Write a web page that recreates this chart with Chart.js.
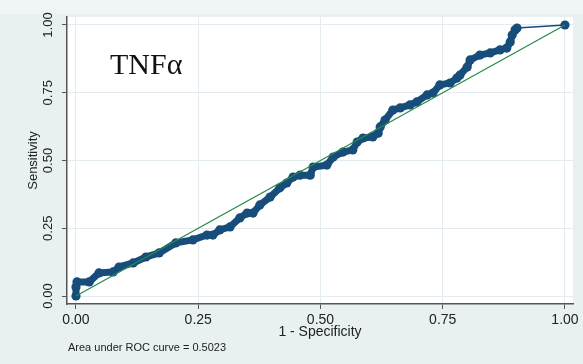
<!DOCTYPE html>
<html><head><meta charset="utf-8">
<script src="https://cdn.jsdelivr.net/npm/chart.js@4"></script>
<style>html,body{margin:0;padding:0;background:#e8f0f2;}canvas{display:block}</style>
</head><body>
<canvas id="c" width="583" height="364"></canvas>
<script>
// ROC curve
const fpr = [0, 0, 0.002, 0.027, 0.047, 0.076, 0.088, 0.117, 0.143, 0.170, 0.204, 0.239, 0.268, 0.280, 0.294, 0.315, 0.335, 0.350, 0.362, 0.376, 0.397, 0.417, 0.431, 0.444, 0.458, 0.479, 0.485, 0.513, 0.526, 0.546, 0.566, 0.575, 0.587, 0.607, 0.618, 0.622, 0.632, 0.648, 0.663, 0.683, 0.697, 0.718, 0.730, 0.744, 0.765, 0.779, 0.785, 0.800, 0.806, 0.826, 0.847, 0.867, 0.881, 0.888, 0.892, 0.898, 0.902, 1];
const tpr = [0, 0.033, 0.052, 0.052, 0.085, 0.089, 0.107, 0.122, 0.144, 0.159, 0.196, 0.207, 0.225, 0.225, 0.244, 0.255, 0.288, 0.306, 0.306, 0.336, 0.365, 0.399, 0.417, 0.439, 0.446, 0.446, 0.476, 0.483, 0.513, 0.531, 0.539, 0.568, 0.583, 0.587, 0.601, 0.624, 0.649, 0.686, 0.694, 0.705, 0.716, 0.742, 0.749, 0.779, 0.786, 0.804, 0.815, 0.845, 0.871, 0.889, 0.897, 0.908, 0.915, 0.937, 0.963, 0.982, 0.989, 1];
const refX = [0, 1];
const refY = [0, 1];
const tickValues = [0, 0.25, 0.5, 0.75, 1];
const tickLabels = ['0.00', '0.25', '0.50', '0.75', '1.00'];
const xTitle = '1 - Specificity';
const yTitle = 'Sensitivity';
const panelLabel = 'TNF\u03b1';
const aucNote = 'Area under ROC curve = 0.5023';

const rocData = fpr.map((x, i) => ({x: x, y: tpr[i]}));
const refData = refX.map((x, i) => ({x: x, y: refY[i]}));

const bgPlugin = {
  id: 'bg',
  beforeDraw(chart) {
    const {ctx, chartArea: a} = chart;
    ctx.save();
    ctx.fillStyle = '#e8f0f2';
    ctx.fillRect(0, 0, chart.width, chart.height);
    ctx.fillStyle = '#eff5f6';
    ctx.fillRect(0, 0, chart.width, 14);
    ctx.fillStyle = '#ffffff';
    ctx.fillRect(a.left, a.top, a.right - a.left, a.bottom - a.top);
    ctx.restore();
  },
  afterDraw(chart) {
    const ctx = chart.ctx;
    ctx.save();
    ctx.fillStyle = '#111';
    ctx.textBaseline = 'alphabetic';
    ctx.font = '30px "Liberation Serif"';
    ctx.fillText(panelLabel, 110, 74);
    ctx.font = '11px "Liberation Sans"';
    ctx.fillStyle = '#222';
    ctx.fillText(aucNote, 68, 351);
    ctx.restore();
  }
};

const setTicks = s => { s.ticks = tickValues.map(v => ({value: v})); };

new Chart(document.getElementById('c'), {
  type: 'scatter',
  data: {
    datasets: [
      {
        data: refData, showLine: true, borderColor: '#2a8a4c', borderWidth: 1.3,
        pointRadius: 0, order: 0
      },
      {
        data: rocData, showLine: true, borderColor: '#174d7a', backgroundColor: '#174d7a',
        borderWidth: 7, pointRadius: 4.6, pointBorderWidth: 0, pointBackgroundColor: '#174d7a',
        order: 1,
        segment: { borderWidth: ctx => (ctx.p0.parsed.x >= 0.9 ? 1.5 : 7) }
      }
    ]
  },
  options: {
    responsive: false,
    animation: false,
    devicePixelRatio: 1,
    layout: { padding: { left: 0, right: 10, top: 17, bottom: 23 } },
    plugins: { legend: { display: false }, tooltip: { enabled: false } },
    scales: {
      x: {
        type: 'linear', min: -0.0184, max: 1.0164,
        afterBuildTicks: setTicks,
        afterFit: s => { s.height = 37; },
        ticks: { callback: (v, i) => tickLabels[i], font: { family: 'Liberation Sans', size: 14 }, color: '#222', padding: 3, maxRotation: 0 },
        grid: { color: '#e3edf1', tickColor: '#555', tickLength: 5, lineWidth: 1 },
        border: { color: '#555', width: 1.5 },
        title: { display: true, text: xTitle, font: { family: 'Liberation Sans', size: 14 }, color: '#222', padding: { top: 0, bottom: 0 } }
      },
      y: {
        type: 'linear', min: -0.0295, max: 1.0295,
        afterBuildTicks: setTicks,
        afterFit: s => { s.width = 67; },
        ticks: { callback: (v, i) => tickLabels[i], font: { family: 'Liberation Sans', size: 13 }, color: '#222', padding: 1, minRotation: 90, maxRotation: 90, crossAlign: 'center' },
        grid: { color: '#e3edf1', tickColor: '#555', tickLength: 5, lineWidth: 1 },
        border: { color: '#555', width: 1.5 },
        title: { display: true, text: yTitle, font: { family: 'Liberation Sans', size: 13 }, color: '#222', padding: { top: 26, bottom: 0 } }
      }
    }
  },
  plugins: [bgPlugin]
});
</script>
</body></html>
